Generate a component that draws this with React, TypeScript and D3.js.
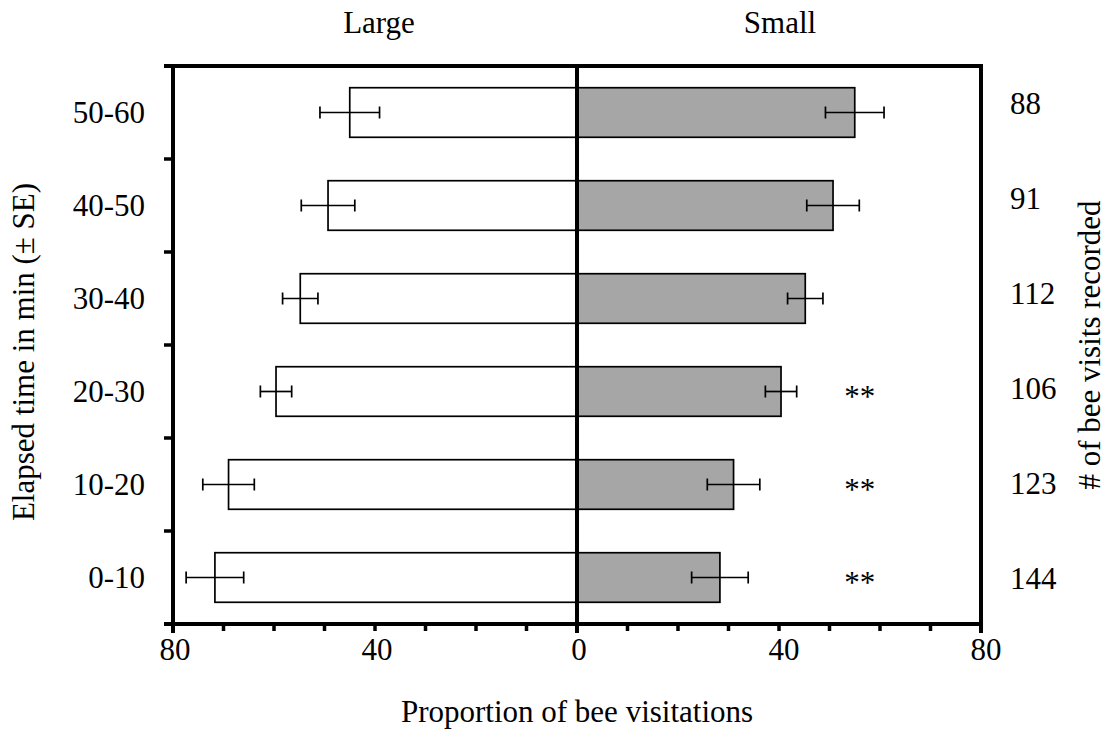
import React from 'react';
import * as d3 from 'd3';

const categories = ['50-60', '40-50', '30-40', '20-30', '10-20', '0-10'];
const largeValues = [45.0, 49.3, 54.8, 59.6, 69.0, 71.7];
const largeErrors = [5.9, 5.3, 3.5, 3.1, 5.1, 5.7];
const smallValues = [55.0, 50.7, 45.2, 40.4, 31.0, 28.3];
const smallErrors = [5.8, 5.2, 3.5, 3.1, 5.2, 5.6];
const visitCounts = ['88', '91', '112', '106', '123', '144'];
const significance = ['', '', '', '**', '**', '**'];
const tickValues = [0, 40, 80];
const minorTicks = d3.range(0, 81, 10);

const W = 1109;
const H = 751;
const FONT = '"Liberation Serif", "Times New Roman", serif';

export default function App() {
  const top = 66;
  const bottom = 624;
  const left = 173;
  const right = 981;
  const center = 577;

  const xL = d3.scaleLinear().domain([0, 80]).range([center, left]);
  const xR = d3.scaleLinear().domain([0, 80]).range([center, right]);
  const y = d3
    .scaleBand()
    .domain(categories)
    .range([top, bottom])
    .paddingInner(0.467)
    .paddingOuter(0.2335);
  const yCount = d3.scalePoint().domain(categories).range([103, 578]);

  const bw = y.bandwidth();
  const cap = 6;
  const boundaries = d3.range(categories.length + 1).map((i) => top + i * y.step());

  return (
    <svg
      width={W}
      height={H}
      style={{ position: 'absolute', left: 0, top: 0, background: '#fff', fontFamily: FONT }}
      fontSize={31}
    >
      {/* bars */}
      {categories.map((c, i) => {
        const y0 = y(c)!;
        const yc = y0 + bw / 2;
        const lx = xL(largeValues[i]);
        const rx = xR(smallValues[i]);
        return (
          <g key={c}>
            <rect x={lx} y={y0} width={center - lx} height={bw} fill="#fff" stroke="#000" strokeWidth={1.7} />
            <rect x={center} y={y0} width={rx - center} height={bw} fill="#a6a6a6" stroke="#000" strokeWidth={1.7} />
            <g stroke="#000" strokeWidth={1.7}>
              <line x1={xL(largeValues[i] + largeErrors[i])} x2={xL(largeValues[i] - largeErrors[i])} y1={yc} y2={yc} />
              <line x1={xL(largeValues[i] + largeErrors[i])} x2={xL(largeValues[i] + largeErrors[i])} y1={yc - cap} y2={yc + cap} />
              <line x1={xL(largeValues[i] - largeErrors[i])} x2={xL(largeValues[i] - largeErrors[i])} y1={yc - cap} y2={yc + cap} />
              <line x1={xR(smallValues[i] - smallErrors[i])} x2={xR(smallValues[i] + smallErrors[i])} y1={yc} y2={yc} />
              <line x1={xR(smallValues[i] - smallErrors[i])} x2={xR(smallValues[i] - smallErrors[i])} y1={yc - cap} y2={yc + cap} />
              <line x1={xR(smallValues[i] + smallErrors[i])} x2={xR(smallValues[i] + smallErrors[i])} y1={yc - cap} y2={yc + cap} />
            </g>
            <text x={145} y={yc} dy="0.35em" textAnchor="end">{c}</text>
            <text x={1010} y={yCount(c)!} dy="0.35em">{visitCounts[i]}</text>
            {significance[i] && (
              <text x={xR(56)} y={yc + 15} textAnchor="middle">{significance[i]}</text>
            )}
          </g>
        );
      })}

      {/* frame */}
      <g stroke="#000" strokeWidth={4} fill="none">
        <line x1={164} x2={right + 2} y1={top} y2={top} />
        <line x1={164} x2={right + 2} y1={bottom} y2={bottom} />
        <line x1={left} x2={left} y1={top} y2={bottom + 9} />
        <line x1={right} x2={right} y1={top} y2={bottom + 9} />
        <line x1={center} x2={center} y1={top} y2={bottom + 9} />
      </g>

      {/* left ticks at category boundaries, bottom ticks every 10 */}
      <g stroke="#000" strokeWidth={3.5}>
        {boundaries.map((b, i) => (
          <line key={i} x1={164} x2={left} y1={b} y2={b} />
        ))}
        {minorTicks.map((t) => (
          <React.Fragment key={t}>
            <line x1={xL(t)} x2={xL(t)} y1={bottom} y2={bottom + 7} />
            <line x1={xR(t)} x2={xR(t)} y1={bottom} y2={bottom + 7} />
          </React.Fragment>
        ))}
      </g>

      {/* x tick labels */}
      {tickValues.map((t) => (
        <React.Fragment key={t}>
          <text x={xL(t) + 2} y={660} textAnchor="middle">{t}</text>
          {t !== 0 && <text x={xR(t) + 5} y={660} textAnchor="middle">{t}</text>}
        </React.Fragment>
      ))}

      {/* group headers */}
      <text x={xL(40) + 4} y={33} textAnchor="middle">Large</text>
      <text x={xR(40) + 1} y={33} textAnchor="middle">Small</text>

      {/* axis titles */}
      <text x={center} y={722} textAnchor="middle">Proportion of bee visitations</text>
      <text transform="translate(34,352) rotate(-90)" textAnchor="middle">Elapsed time in min (± SE)</text>
      <text transform="translate(1100,345) rotate(-90)" textAnchor="middle"># of bee visits recorded</text>
    </svg>
  );
}
